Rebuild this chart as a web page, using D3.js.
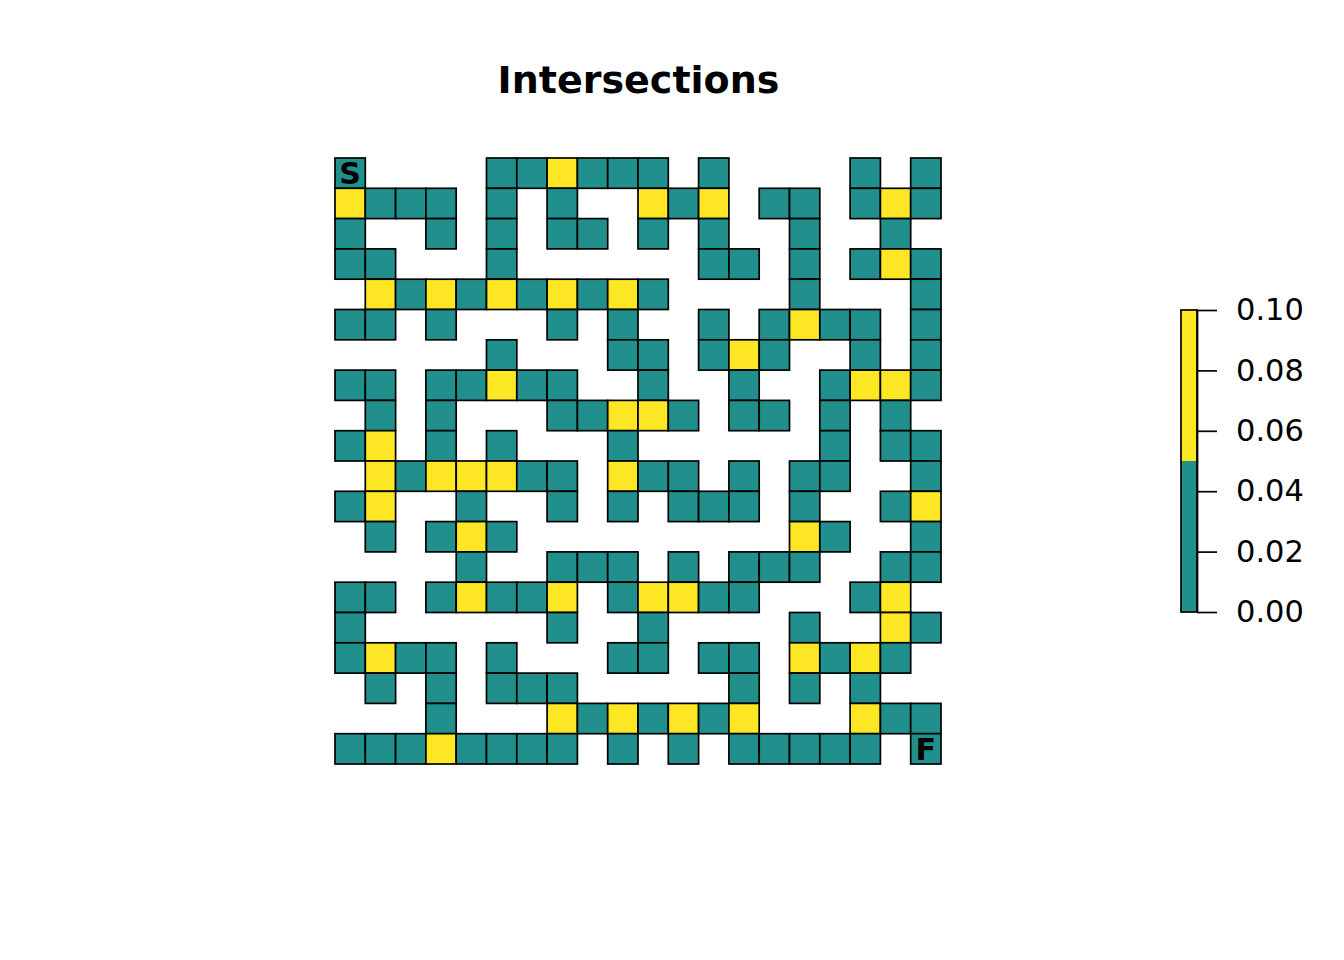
<!DOCTYPE html>
<html>
<head>
<meta charset="utf-8">
<script src="https://cdn.jsdelivr.net/npm/d3@7"></script>
<style>
  html, body { margin: 0; padding: 0; background: #ffffff; }
  svg { display: block; }
  text { font-family: "DejaVu Sans", sans-serif; }
</style>
</head>
<body>
<svg id="chart" width="1344" height="960"></svg>
<script>
// ---- data ----
const title = "Intersections";
// Maze grid, row 0 at top. '.' = wall (empty), 'T' = path cell, 'Y' = intersection cell
const mazeRows = [
  "T....TTYTTT.T....T.T",
  "YTTT.T.T..YTY.TT.TYT",
  "T..T.T.TT.T.T..T..T.",
  "TT...T......TT.T.TYT",
  ".YTYTYTYTYT....T...T",
  "TT.T...T.T..T.TYTT.T",
  ".....T...TT.TYT..T.T",
  "TT.TTYTT..T..T..TYYT",
  ".T.T...TTYYT.TT.T.T.",
  "TY.T.T...T......T.TT",
  ".YTYYYTT.YTT.T.TT..T",
  "TY..T..T.T.TTT.T..TY",
  ".T.TYT.........YT..T",
  "....T..TTT.T.TTT..TT",
  "TT.TYTTY.TYYTT...TY.",
  "T......T..T....T..YT",
  "TYTT.T...TT.TT.YTYT.",
  ".T.T.TTT.....T.T.T..",
  "...T...YTYTYTY...YTT",
  "TTTYTTTT.T.T.TTTTT.T"
];
const codeValues = { T: 0.0, Y: 0.1 };
const markers = [
  { label: "S", row: 0, col: 0 },
  { label: "F", row: 19, col: 19 }
];
const legendBreaks = [0.0, 0.05, 0.1];
const legendColors = ["#21908C", "#FDE725"];
const legendTicks = [0.00, 0.02, 0.04, 0.06, 0.08, 0.10];

// ---- build cells ----
const nRows = mazeRows.length, nCols = mazeRows[0].length;
const cells = [];
mazeRows.forEach((row, r) => {
  row.split("").forEach((ch, c) => {
    if (ch in codeValues) cells.push({ row: r, col: c, value: codeValues[ch] });
  });
});

const svg = d3.select("#chart");

const x = d3.scaleBand().domain(d3.range(nCols)).range([335, 941]).padding(0);
const y = d3.scaleBand().domain(d3.range(nRows)).range([158, 764]).padding(0);
const color = d3.scaleThreshold().domain([legendBreaks[1]]).range(legendColors);

// title
svg.append("text")
  .attr("x", 638.5).attr("y", 93)
  .attr("text-anchor", "middle")
  .attr("font-weight", "bold")
  .attr("font-size", 38)
  .text(title);

// cells
svg.append("g").selectAll("rect").data(cells).join("rect")
  .attr("x", d => x(d.col))
  .attr("y", d => y(d.row))
  .attr("width", x.bandwidth())
  .attr("height", y.bandwidth())
  .attr("fill", d => color(d.value))
  .attr("stroke", "#000")
  .attr("stroke-width", 1.7);

// S / F markers
svg.append("g").selectAll("text").data(markers).join("text")
  .attr("x", d => x(d.col) + x.bandwidth() / 2)
  .attr("y", d => y(d.row) + y.bandwidth() / 2)
  .attr("dy", "0.36em")
  .attr("text-anchor", "middle")
  .attr("font-weight", "bold")
  .attr("font-size", 30)
  .text(d => d.label);

// legend
const ly = d3.scaleLinear().domain([0, 0.1]).range([612, 310]);
const legend = svg.append("g");
const bins = d3.range(legendColors.length).map(i => ({ lo: legendBreaks[i], hi: legendBreaks[i + 1], color: legendColors[i] }));
legend.selectAll("rect.bin").data(bins).join("rect")
  .attr("class", "bin")
  .attr("x", 1181)
  .attr("width", 16)
  .attr("y", d => ly(d.hi))
  .attr("height", d => ly(d.lo) - ly(d.hi))
  .attr("fill", d => d.color);
legend.append("rect")
  .attr("x", 1181).attr("y", ly(0.1))
  .attr("width", 16).attr("height", ly(0) - ly(0.1))
  .attr("fill", "none").attr("stroke", "#000").attr("stroke-width", 1.7);

const axis = d3.axisRight(ly)
  .tickValues(legendTicks)
  .tickFormat(d3.format(".2f"))
  .tickSize(20)
  .tickSizeOuter(0)
  .tickPadding(19);
const ag = legend.append("g").attr("transform", "translate(1197,0)").call(axis);
ag.select(".domain").attr("stroke", "#000").attr("stroke-width", 1.7);
ag.selectAll(".tick line").attr("stroke", "#000").attr("stroke-width", 1.7);
ag.selectAll(".tick text")
  .attr("font-family", "DejaVu Sans, sans-serif")
  .attr("font-size", 30.5)
  .attr("fill", "#000");
</script>
</body>
</html>
